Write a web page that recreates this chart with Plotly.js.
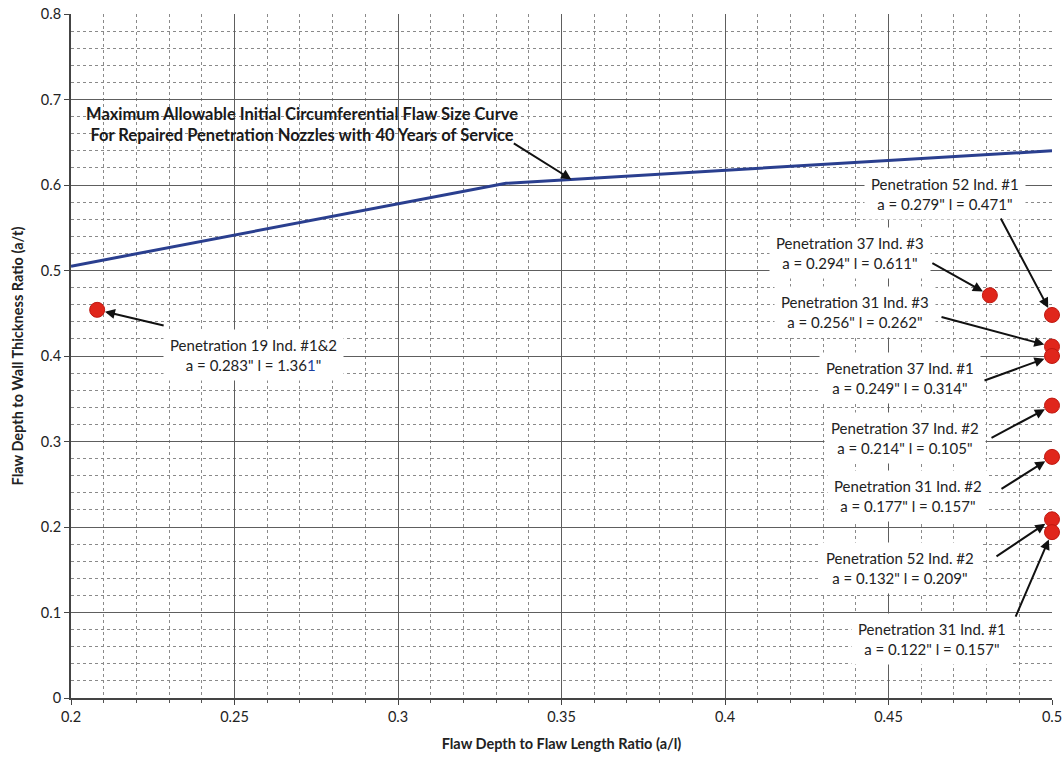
<!DOCTYPE html>
<html>
<head>
<meta charset="utf-8">
<script src="https://cdn.plot.ly/plotly-3.0.1.min.js"></script>
<style>html,body{margin:0;padding:0;background:#fff;}#chart{width:1064px;height:758px;}</style>
</head>
<body>
<div id="chart"></div>
<script>
// Curve: maximum allowable initial circumferential flaw size
const curveX = [0.2, 0.333, 0.5];
const curveY = [0.505, 0.602, 0.640];

// Flaw indications
const flawNames = ["Penetration 19 Ind. #1&2", "Penetration 37 Ind. #3", "Penetration 52 Ind. #1",
  "Penetration 31 Ind. #3", "Penetration 37 Ind. #1", "Penetration 37 Ind. #2",
  "Penetration 31 Ind. #2", "Penetration 52 Ind. #2", "Penetration 31 Ind. #1"];
const flawDims = ['a = 0.283" l = 1.36<span style="color:#1a3ea0">1</span>"', 'a = 0.294" l = 0.611"', 'a = 0.279" l = 0.471"',
  'a = 0.256" l = 0.262"', 'a = 0.249" l = 0.314"', 'a = 0.214" l = 0.105"',
  'a = 0.177" l = 0.157"', 'a = 0.132" l = 0.209"', 'a = 0.122" l = 0.157"'];
const flawX = [0.208, 0.481, 0.5, 0.5, 0.5, 0.5, 0.5, 0.5, 0.5];
const flawY = [0.454, 0.471, 0.448, 0.411, 0.400, 0.342, 0.282, 0.209, 0.194];

// label placement (layout only): text centre and arrow tail offsets in px
const labelPos = [[0.2557,0.401],[0.4382,0.520],[0.4673,0.589],[0.4398,0.451],[0.4535,0.374],
  [0.4550,0.304],[0.4560,0.236],[0.4535,0.152],[0.4633,0.069]];
const arrowOff = [[68,16],[-59,-33],[-52,-98],[-112,-30],[-69,25],[-62,33],[-52,33],[-57,38],[-37,86]];

const FONT = "Lato, 'Open Sans', sans-serif";

const traces = [
  {x: curveX, y: curveY, mode: 'lines', type: 'scatter',
   line: {color: '#2a3f8f', width: 3}, hoverinfo: 'skip'},
  {x: flawX, y: flawY, mode: 'markers', type: 'scatter', cliponaxis: false,
   marker: {color: '#e0261b', size: 15, line: {color: '#c01810', width: 1}}, hoverinfo: 'skip'}
];

const annotations = [];
// main curve label
annotations.push({x: 0.2706, y: 0.671, xref: 'x', yref: 'y', showarrow: false,
  text: '<b>Maximum Allowable Initial Circumferential Flaw Size Curve<br>For Repaired Penetration Nozzles with 40 Years of Service</b>',
  font: {family: FONT, size: 16.5, color: '#1a1a1a'}, align: 'center'});
// arrow to curve (point on curve at a/l = 0.353)
const cx = 0.353;
const cy = curveY[1] + (cx - curveX[1]) / (curveX[2] - curveX[1]) * (curveY[2] - curveY[1]);
annotations.push({x: cx, y: cy, xref: 'x', yref: 'y', text: '', showarrow: true,
  ax: -59, ay: -37, arrowhead: 2, arrowsize: 1, arrowwidth: 2, arrowcolor: '#111', standoff: 0});

for (let i = 0; i < flawNames.length; i++) {
  annotations.push({x: labelPos[i][0], y: labelPos[i][1], xref: 'x', yref: 'y', showarrow: false,
    text: flawNames[i] + '<br>' + flawDims[i], bgcolor: '#ffffff', borderpad: 6,
    font: {family: FONT, size: 15, color: '#222'}, align: 'center'});
  annotations.push({x: flawX[i], y: flawY[i], xref: 'x', yref: 'y', text: '', showarrow: true,
    ax: arrowOff[i][0], ay: arrowOff[i][1], arrowhead: 2, arrowsize: 1, arrowwidth: 2,
    arrowcolor: '#111', standoff: 8});
}

const layout = {
  width: 1064, height: 758,
  margin: {l: 71, r: 12, t: 14, b: 60},
  paper_bgcolor: '#fff', plot_bgcolor: '#fff',
  showlegend: false,
  font: {family: FONT, size: 14, color: '#222'},
  xaxis: {
    range: [0.2, 0.5], dtick: 0.05, tick0: 0.2,
    showgrid: true, gridcolor: '#5e5e5e', gridwidth: 1,
    minor: {dtick: 0.01, showgrid: true, gridcolor: '#8a8a8a', griddash: 'dot', gridwidth: 1,
            ticks: 'outside', ticklen: 3, tickcolor: '#555'},
    showline: true, linecolor: '#444', linewidth: 2, mirror: false,
    ticks: 'outside', ticklen: 5, tickcolor: '#444',
    zeroline: false, tickfont: {family: FONT, size: 14.5, color: '#222'},
    title: {text: '<b>Flaw Depth to Flaw Length Ratio (a/l)</b>', font: {family: FONT, size: 14.5, color: '#222'}, standoff: 14}
  },
  yaxis: {
    range: [0, 0.8], dtick: 0.1, tick0: 0,
    showgrid: true, gridcolor: '#5e5e5e', gridwidth: 1,
    minor: {dtick: 0.02, showgrid: true, gridcolor: '#8a8a8a', griddash: 'dot', gridwidth: 1},
    showline: true, linecolor: '#444', linewidth: 2, mirror: false,
    ticks: 'outside', ticklen: 5, tickcolor: '#444',
    zeroline: false, tickfont: {family: FONT, size: 14.5, color: '#222'},
    title: {text: '<b>Flaw Depth to Wall Thickness Ratio (a/t)</b>', font: {family: FONT, size: 14.5, color: '#222'}, standoff: 14}
  },
  annotations: annotations
};

Plotly.newPlot('chart', traces, layout, {displayModeBar: false, staticPlot: true});
</script>
</body>
</html>
